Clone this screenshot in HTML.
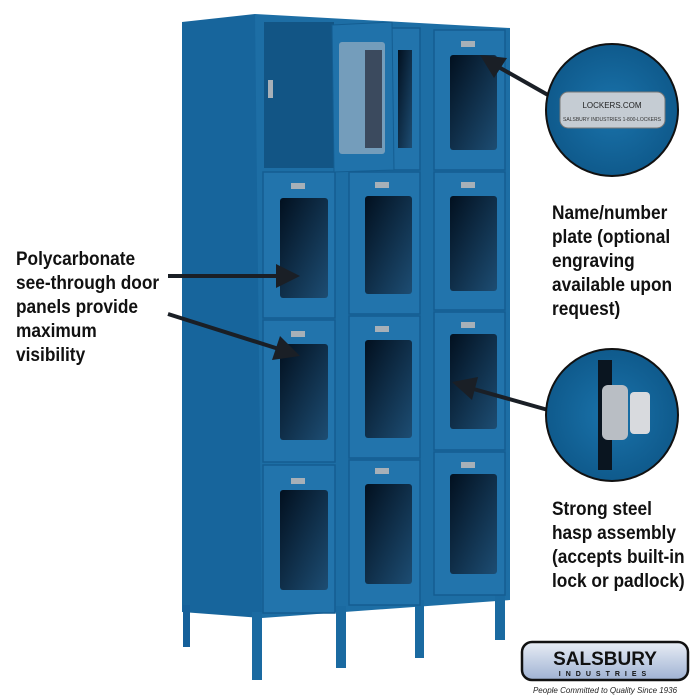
<!DOCTYPE html>
<html><head><meta charset="utf-8"><style>
body{margin:0;background:#fff;width:700px;height:700px;overflow:hidden;font-family:"Liberation Sans",sans-serif}
.t{position:absolute;font-weight:bold;font-size:19px;line-height:24px;color:#111;font-family:"Liberation Sans",sans-serif;white-space:nowrap;transform:scaleX(0.91);transform-origin:0 0}
</style></head><body>
<svg width="700" height="700" style="position:absolute;left:0;top:0">
<defs>
<linearGradient id="w" x1="0" y1="0" x2="1" y2="1"><stop offset="0" stop-color="#02101f"/><stop offset="1" stop-color="#1d4d73"/></linearGradient>
<radialGradient id="c" cx="0.5" cy="0.5" r="0.5"><stop offset="0" stop-color="#1a73ab"/><stop offset="1" stop-color="#0f5a8c"/></radialGradient>
<linearGradient id="lg" x1="0" y1="0" x2="0" y2="1"><stop offset="0" stop-color="#e8edf5"/><stop offset="1" stop-color="#9fb2d3"/></linearGradient>
</defs>
<polygon points="182,22 255,14 262,20 262,618 182,612" fill="#17659c"/>
<polygon points="255,14 510,28 510,600 262,618" fill="#1d6ea5"/>
<rect x="183" y="605" width="7" height="42" fill="#15609a"/>
<rect x="252" y="612" width="10" height="68" fill="#1a6aa1"/>
<rect x="336" y="606" width="10" height="62" fill="#1a6aa1"/>
<rect x="415" y="600" width="9" height="58" fill="#1a6aa1"/>
<rect x="495" y="595" width="10" height="45" fill="#1a6aa1"/>
<rect x="264" y="22" width="70" height="146" fill="#125585"/>
<g stroke="#145d91" stroke-width="1.5" fill="#2274ac">
<rect x="263" y="172" width="72" height="146"/><rect x="263" y="320" width="72" height="142"/><rect x="263" y="465" width="72" height="148"/>
<rect x="349" y="28" width="71" height="142"/><rect x="349" y="172" width="71" height="142"/><rect x="349" y="316" width="71" height="142"/><rect x="349" y="460" width="71" height="145"/>
<rect x="434" y="30" width="71" height="140"/><rect x="434" y="172" width="71" height="138"/><rect x="434" y="312" width="71" height="138"/><rect x="434" y="452" width="71" height="143"/>
</g>
<g fill="url(#w)">
<rect x="280" y="198" width="48" height="100" rx="3"/><rect x="280" y="344" width="48" height="96" rx="3"/><rect x="280" y="490" width="48" height="100" rx="3"/>
<rect x="365" y="196" width="47" height="98" rx="3"/><rect x="365" y="340" width="47" height="98" rx="3"/><rect x="365" y="484" width="47" height="100" rx="3"/>
<rect x="450" y="55" width="47" height="95" rx="3"/><rect x="450" y="196" width="47" height="95" rx="3"/><rect x="450" y="334" width="47" height="95" rx="3"/><rect x="450" y="474" width="47" height="100" rx="3"/>
<rect x="398" y="50" width="14" height="98"/>
</g>
<polygon points="332,25 392,22 394,170 334,172" fill="#2072aa" stroke="#145d91"/>
<rect x="339" y="42" width="46" height="112" rx="3" fill="#8aa7bf" opacity="0.8"/>
<rect x="365" y="50" width="17" height="98" fill="#3b4a5e"/>
<g fill="#a7b0b8">
<rect x="291" y="183" width="14" height="6"/><rect x="375" y="182" width="14" height="6"/><rect x="461" y="182" width="14" height="6"/>
<rect x="291" y="331" width="14" height="6"/><rect x="375" y="326" width="14" height="6"/><rect x="461" y="322" width="14" height="6"/>
<rect x="291" y="478" width="14" height="6"/><rect x="375" y="468" width="14" height="6"/><rect x="461" y="462" width="14" height="6"/>
<rect x="461" y="41" width="14" height="6"/>
<rect x="268" y="80" width="5" height="18"/>
</g>
<g stroke="#1a1f26" stroke-width="4" fill="#1a1f26">
<line x1="168" y1="276" x2="282" y2="276"/><polygon points="300,276 276,264 276,288" stroke="none"/>
<line x1="168" y1="314" x2="282" y2="350"/><polygon points="300,356 272,360 280,336" stroke="none"/>
<line x1="548" y1="95" x2="495" y2="65"/><polygon points="480,55 507,58 494,78" stroke="none"/>
<line x1="548" y1="410" x2="470" y2="388"/><polygon points="452,382 478,377 472,400" stroke="none"/>
</g>
<circle cx="612" cy="110" r="66" fill="url(#c)" stroke="#111" stroke-width="2"/>
<rect x="560" y="92" width="105" height="36" rx="8" fill="#c5ccd3" stroke="#777"/>
<text x="612" y="108" font-size="8" text-anchor="middle" fill="#222" font-family="Liberation Sans">LOCKERS.COM</text>
<text x="612" y="121" font-size="5" text-anchor="middle" fill="#333" font-family="Liberation Sans">SALSBURY INDUSTRIES 1-800-LOCKERS</text>
<circle cx="612" cy="415" r="66" fill="url(#c)" stroke="#111" stroke-width="2"/>
<rect x="598" y="360" width="14" height="110" fill="#0a1520"/>
<rect x="602" y="385" width="26" height="55" rx="6" fill="#b9bec4"/>
<rect x="630" y="392" width="20" height="42" rx="4" fill="#d8dade"/>
<rect x="522" y="642" width="166" height="38" rx="10" fill="url(#lg)" stroke="#111" stroke-width="2.5"/>
<text x="605" y="665" font-size="19" font-weight="bold" text-anchor="middle" fill="#111" font-family="Liberation Sans">SALSBURY</text>
<text x="605" y="676" font-size="7" font-weight="bold" text-anchor="middle" fill="#111" letter-spacing="5" font-family="Liberation Sans">INDUSTRIES</text>
<text x="605" y="693" font-size="8" font-style="italic" text-anchor="middle" fill="#222" font-family="Liberation Sans">People Committed to Quality Since 1936</text>
</svg>
<div class="t" style="left:16px;top:248px">Polycarbonate<br>see-through door<br>panels provide<br>maximum<br>visibility</div>
<div class="t" style="left:552px;top:202px">Name/number<br>plate (optional<br>engraving<br>available upon<br>request)</div>
<div class="t" style="left:552px;top:498px">Strong steel<br>hasp assembly<br>(accepts built-in<br>lock or padlock)</div>
</body></html>
